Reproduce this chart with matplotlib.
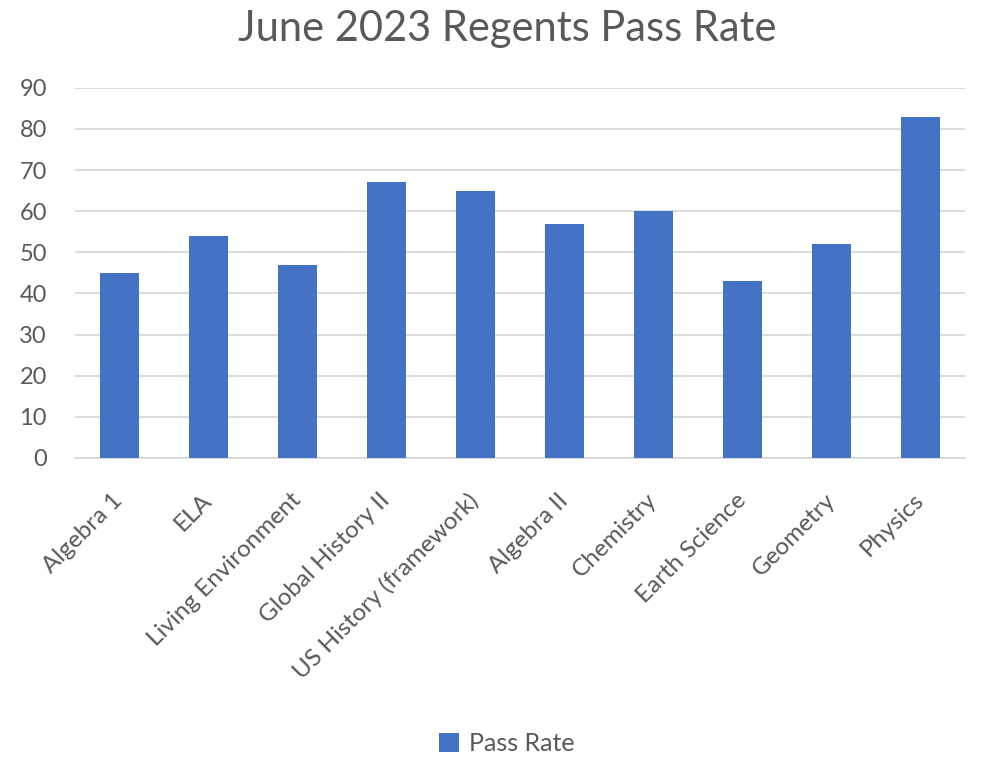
import numpy as np
import matplotlib.pyplot as plt
from matplotlib.patches import Patch

# данные
SUBJECTS = [
    "Algebra 1", "ELA", "Living Environment", "Global History II",
    "US History (framework)", "Algebra II", "Chemistry", "Earth Science",
    "Geometry", "Physics"]
PASS_RATE = [45, 54, 47, 67, 65, 57, 60, 43, 52, 83]
Y_TICKS = [0, 10, 20, 30, 40, 50, 60, 70, 80, 90]

BAR_COLOR = "#4472C4"
TEXT_COLOR = "#595959"
GRID_COLOR = "#D9D9D9"

plt.rcParams['font.family'] = ['Lato', 'DejaVu Sans']

fig = plt.figure(figsize=(9.84, 7.57), dpi=100)
ax = fig.add_axes([0.076, 0.395, 0.905, 0.489])

ind = np.arange(len(SUBJECTS))
ax.bar(ind, PASS_RATE, width=0.44, color=BAR_COLOR, zorder=3)

ax.set_xlim(-0.5, len(SUBJECTS) - 0.5)
ax.set_ylim(0, 90)
ax.set_yticks(Y_TICKS)
ax.tick_params(axis='y', length=0, labelsize=17, labelcolor=TEXT_COLOR, pad=20)
ax.set_xticks(ind)
ax.set_xticklabels(SUBJECTS, rotation=45, ha='right', va='center',
                   rotation_mode='anchor')
ax.tick_params(axis='x', length=0, labelsize=17.5, labelcolor=TEXT_COLOR, pad=28)

ax.grid(True, axis='y', color=GRID_COLOR, linewidth=1.3, zorder=0)
for side in ['top', 'right', 'left']:
    ax.spines[side].set_visible(False)
ax.spines['bottom'].set_color(GRID_COLOR)
ax.spines['bottom'].set_linewidth(1.3)

fig.text(0.515, 0.962, "June 2023 Regents Pass Rate", ha='center', va='center',
         fontsize=30, color=TEXT_COLOR)

handle = Patch(facecolor=BAR_COLOR, edgecolor='none')
fig.legend([handle], ["Pass Rate"], loc='center', bbox_to_anchor=(0.515, 0.018),
           frameon=False, fontsize=18, labelcolor=TEXT_COLOR,
           handlelength=0.8, handleheight=0.8, handletextpad=0.4)

plt.savefig("out.png", dpi=100)
